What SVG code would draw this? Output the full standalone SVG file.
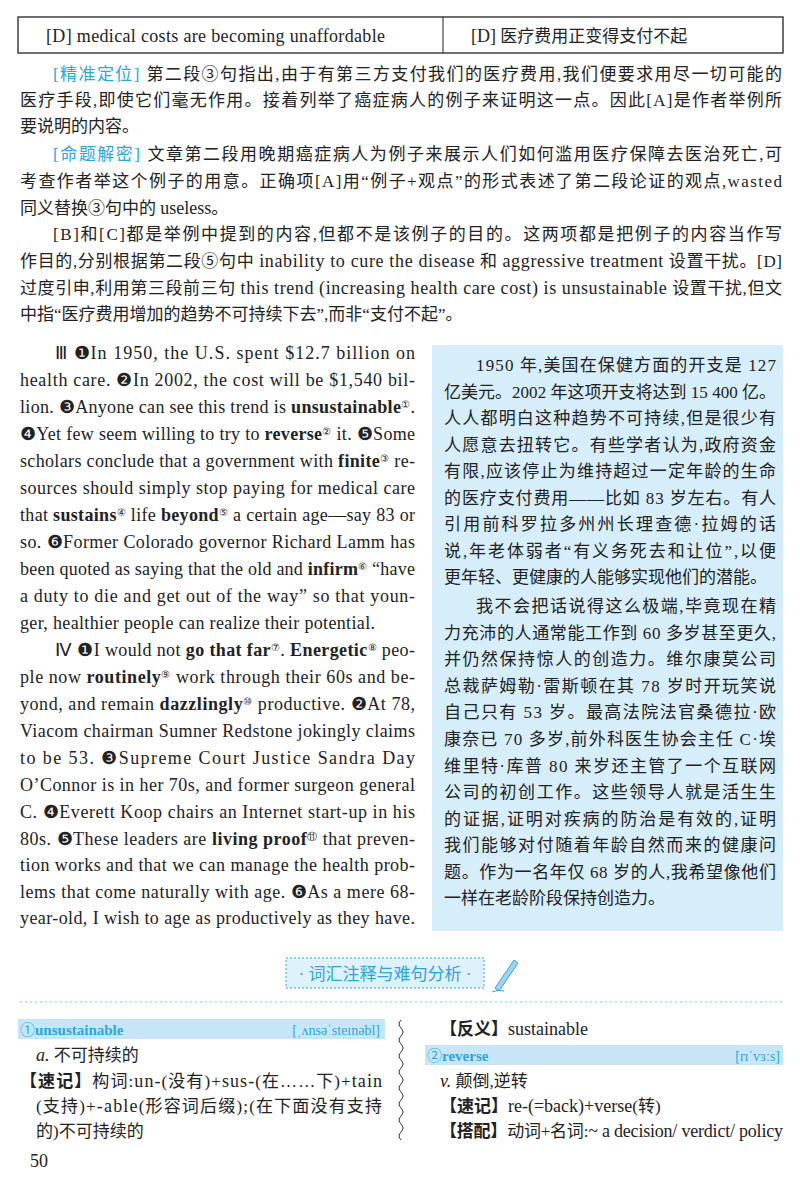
<svg xmlns="http://www.w3.org/2000/svg" width="800" height="1185" viewBox="0 0 800 1185">
<style>
text{fill:#222}
.cn{font-family:'Liberation Serif','Times New Roman','Noto Sans CJK SC',serif;font-size:17px}
.en{font-family:'Liberation Serif','Times New Roman',serif;font-size:18px}
.bl{fill:#2aa6e0}
.b{font-weight:bold}
.s{font-size:10px;baseline-shift:super}
.hl{fill:#c6e6f8}
.l{font-size:18px}
</style>
<rect width="800" height="1185" fill="#fff"/>
<g id="table">
<rect x="18" y="17" width="765" height="36" fill="none" stroke="#222" stroke-width="1.3"/>
<line x1="443" y1="17" x2="443" y2="53" stroke="#222"/>
<text class="en" x="46" y="42" textLength="339" lengthAdjust="spacing">[D] medical costs are becoming unaffordable</text>
<text class="cn" x="471" y="42" font-size="17.5"><tspan class="l">[D]</tspan> 医疗费用正变得支付不起</text>
</g>
<g id="analysis" class="cn">
<text x="53" y="80" textLength="729" lengthAdjust="spacing"><tspan class="bl">[精准定位]</tspan> 第二段③句指出,由于有第三方支付我们的医疗费用,我们便要求用尽一切可能的</text>
<text x="20" y="106" textLength="762" lengthAdjust="spacing">医疗手段,即使它们毫无作用。接着列举了癌症病人的例子来证明这一点。因此[A]是作者举例所</text>
<text x="20" y="132">要说明的内容。</text>
<text x="53" y="160" textLength="729" lengthAdjust="spacing"><tspan class="bl">[命题解密]</tspan> 文章第二段用晚期癌症病人为例子来展示人们如何滥用医疗保障去医治死亡,可</text>
<text x="20" y="187" textLength="762" lengthAdjust="spacing">考查作者举这个例子的用意。正确项[A]用“例子+观点”的形式表述了第二段论证的观点,wasted</text>
<text x="20" y="214">同义替换③句中的 <tspan class="l">useless</tspan>。</text>
<text x="53" y="240" textLength="729" lengthAdjust="spacing">[B]和[C]都是举例中提到的内容,但都不是该例子的目的。这两项都是把例子的内容当作写</text>
<text x="20" y="267" textLength="762" lengthAdjust="spacing">作目的,分别根据第二段⑤句中 <tspan class="l">inability to cure the disease</tspan> 和 <tspan class="l">aggressive treatment</tspan> 设置干扰。[D]</text>
<text x="20" y="294" textLength="762" lengthAdjust="spacing">过度引申,利用第三段前三句 <tspan class="l">this trend (increasing health care cost) is unsustainable</tspan> 设置干扰,但文</text>
<text x="20" y="320">中指“医疗费用增加的趋势不可持续下去”,而非“支付不起”。</text>
</g>
<g id="english" class="en">
<text x="55" y="359" textLength="360" lengthAdjust="spacing">Ⅲ ❶In 1950, the U.S. spent $12.7 billion on</text>
<text x="20" y="386" textLength="395" lengthAdjust="spacing">health care. ❷In 2002, the cost will be $1,540 bil-</text>
<text x="20" y="413" textLength="395" lengthAdjust="spacing">lion. ❸Anyone can see this trend is <tspan class="b">unsustainable</tspan><tspan class="s">①</tspan>.</text>
<text x="20" y="440" textLength="395" lengthAdjust="spacing">❹Yet few seem willing to try to <tspan class="b">reverse</tspan><tspan class="s">②</tspan> it. ❺Some</text>
<text x="20" y="467" textLength="395" lengthAdjust="spacing">scholars conclude that a government with <tspan class="b">finite</tspan><tspan class="s">③</tspan> re-</text>
<text x="20" y="494" textLength="395" lengthAdjust="spacing">sources should simply stop paying for medical care</text>
<text x="20" y="521" textLength="395" lengthAdjust="spacing">that <tspan class="b">sustains</tspan><tspan class="s">④</tspan> life <tspan class="b">beyond</tspan><tspan class="s">⑤</tspan> a certain age—say 83 or</text>
<text x="20" y="548" textLength="395" lengthAdjust="spacing">so. ❻Former Colorado governor Richard Lamm has</text>
<text x="20" y="575" textLength="395" lengthAdjust="spacing">been quoted as saying that the old and <tspan class="b">infirm</tspan><tspan class="s">⑥</tspan> “have</text>
<text x="20" y="602" textLength="395" lengthAdjust="spacing">a duty to die and get out of the way” so that youn-</text>
<text x="20" y="629" textLength="355" lengthAdjust="spacing">ger, healthier people can realize their potential.</text>
<text x="55" y="656" textLength="360" lengthAdjust="spacing">Ⅳ ❶I would not <tspan class="b">go that far</tspan><tspan class="s">⑦</tspan>. <tspan class="b">Energetic</tspan><tspan class="s">⑧</tspan> peo-</text>
<text x="20" y="683" textLength="395" lengthAdjust="spacing">ple now <tspan class="b">routinely</tspan><tspan class="s">⑨</tspan> work through their 60s and be-</text>
<text x="20" y="710" textLength="395" lengthAdjust="spacing">yond, and remain <tspan class="b">dazzlingly</tspan><tspan class="s">⑩</tspan> productive. ❷At 78,</text>
<text x="20" y="737" textLength="395" lengthAdjust="spacing">Viacom chairman Sumner Redstone jokingly claims</text>
<text x="20" y="764" textLength="395" lengthAdjust="spacing">to be 53. ❸Supreme Court Justice Sandra Day</text>
<text x="20" y="791" textLength="395" lengthAdjust="spacing">O’Connor is in her 70s, and former surgeon general</text>
<text x="20" y="818" textLength="395" lengthAdjust="spacing">C. ❹Everett Koop chairs an Internet start-up in his</text>
<text x="20" y="845" textLength="395" lengthAdjust="spacing">80s. ❺These leaders are <tspan class="b">living proof</tspan><tspan class="s">⑪</tspan> that preven-</text>
<text x="20" y="871" textLength="395" lengthAdjust="spacing">tion works and that we can manage the health prob-</text>
<text x="20" y="898" textLength="395" lengthAdjust="spacing">lems that come naturally with age. ❻As a mere 68-</text>
<text x="20" y="924" textLength="395" lengthAdjust="spacing">year-old, I wish to age as productively as they have.</text>
</g>
<g id="translation" class="cn">
<rect x="432" y="345" width="351" height="586" fill="#d6edfa"/>
<text x="476" y="371" textLength="300" lengthAdjust="spacing">1950 年,美国在保健方面的开支是 127</text>
<text x="444" y="398" textLength="332" lengthAdjust="spacing">亿美元。2002 年这项开支将达到 15 400 亿。</text>
<text x="444" y="424" textLength="332" lengthAdjust="spacing">人人都明白这种趋势不可持续,但是很少有</text>
<text x="444" y="451" textLength="332" lengthAdjust="spacing">人愿意去扭转它。有些学者认为,政府资金</text>
<text x="444" y="477" textLength="332" lengthAdjust="spacing">有限,应该停止为维持超过一定年龄的生命</text>
<text x="444" y="504" textLength="332" lengthAdjust="spacing">的医疗支付费用——比如 83 岁左右。有人</text>
<text x="444" y="530" textLength="332" lengthAdjust="spacing">引用前科罗拉多州州长理查德·拉姆的话</text>
<text x="444" y="557" textLength="332" lengthAdjust="spacing">说,年老体弱者“有义务死去和让位”,以便</text>
<text x="444" y="583">更年轻、更健康的人能够实现他们的潜能。</text>
<text x="476" y="612" textLength="300" lengthAdjust="spacing">我不会把话说得这么极端,毕竟现在精</text>
<text x="444" y="639" textLength="332" lengthAdjust="spacing">力充沛的人通常能工作到 60 多岁甚至更久,</text>
<text x="444" y="665" textLength="332" lengthAdjust="spacing">并仍然保持惊人的创造力。维尔康莫公司</text>
<text x="444" y="692" textLength="332" lengthAdjust="spacing">总裁萨姆勒·雷斯顿在其 78 岁时开玩笑说</text>
<text x="444" y="718" textLength="332" lengthAdjust="spacing">自己只有 53 岁。最高法院法官桑德拉·欧</text>
<text x="444" y="745" textLength="332" lengthAdjust="spacing">康奈已 70 多岁,前外科医生协会主任 C·埃</text>
<text x="444" y="772" textLength="332" lengthAdjust="spacing">维里特·库普 80 来岁还主管了一个互联网</text>
<text x="444" y="798" textLength="332" lengthAdjust="spacing">公司的初创工作。这些领导人就是活生生</text>
<text x="444" y="825" textLength="332" lengthAdjust="spacing">的证据,证明对疾病的防治是有效的,证明</text>
<text x="444" y="851" textLength="332" lengthAdjust="spacing">我们能够对付随着年龄自然而来的健康问</text>
<text x="444" y="878" textLength="332" lengthAdjust="spacing">题。作为一名年仅 68 岁的人,我希望像他们</text>
<text x="444" y="904">一样在老龄阶段保持创造力。</text>
</g>
<g id="heading">
<rect x="286" y="958" width="198" height="30" fill="#dff1fb" stroke="#2aa6e0" stroke-width="1" stroke-dasharray="2,2"/>
<text x="385" y="980" text-anchor="middle" class="cn bl" font-size="17">· 词汇注释与难句分析 ·</text>
<path d="M495 988 L514 960 L518 963 L499 991 Z" fill="#9fd3f0" stroke="#2aa6e0"/>
<path d="M492 992 q6 -3 12 -1" stroke="#2aa6e0" fill="none"/>
<line x1="20" y1="1002" x2="783" y2="1002" stroke="#7ccbee" stroke-dasharray="2,3"/>
</g>
<g id="vocab" class="cn">
<rect class="hl" x="18" y="1019" width="367" height="20"/>
<text x="20" y="1035" font-size="15"><tspan class="bl">①</tspan><tspan class="b bl">unsustainable</tspan></text>
<text x="380" y="1035" font-size="14" text-anchor="end" class="bl">[ˌʌnsəˈsteɪnəbl]</text>
<text x="36" y="1061"><tspan font-style="italic" class="l">a.</tspan> 不可持续的</text>
<text x="20" y="1087" textLength="362" lengthAdjust="spacing"><tspan class="b">【速记】</tspan>构词:<tspan class="l">un-</tspan>(没有)+<tspan class="l">sus-</tspan>(在……下)+<tspan class="l">tain</tspan></text>
<text x="36" y="1112" textLength="346" lengthAdjust="spacing">(支持)+<tspan class="l">-able</tspan>(形容词后缀);(在下面没有支持</text>
<text x="36" y="1137">的)不可持续的</text>
<path d="M401 1020 q-4 4 0 8 q4 4 0 8 q-4 4 0 8 q4 4 0 8 q-4 4 0 8 q4 4 0 8 q-4 4 0 8 q4 4 0 8 q-4 4 0 8 q4 4 0 8 q-4 4 0 8 q4 4 0 8 q-4 4 0 8 q4 4 0 8 q-4 4 0 8" fill="none" stroke="#333"/>
<text x="440" y="1035"><tspan class="b">【反义】</tspan><tspan class="l">sustainable</tspan></text>
<rect class="hl" x="425" y="1045" width="358" height="20"/>
<text x="427" y="1061" font-size="15"><tspan class="bl">②</tspan><tspan class="b bl">reverse</tspan></text>
<text x="780" y="1061" font-size="14" text-anchor="end" class="bl">[rɪˈvɜːs]</text>
<text x="440" y="1087"><tspan font-style="italic" class="l">v.</tspan> 颠倒,逆转</text>
<text x="440" y="1112"><tspan class="b">【速记】</tspan><tspan class="l">re-(=back)+verse</tspan>(转)</text>
<text x="440" y="1137" textLength="343" lengthAdjust="spacing"><tspan class="b">【搭配】</tspan>动词+名词:<tspan class="l">~ a decision/ verdict/ policy</tspan></text>
<text x="30" y="1167" class="en">50</text>
</g>
</svg>
